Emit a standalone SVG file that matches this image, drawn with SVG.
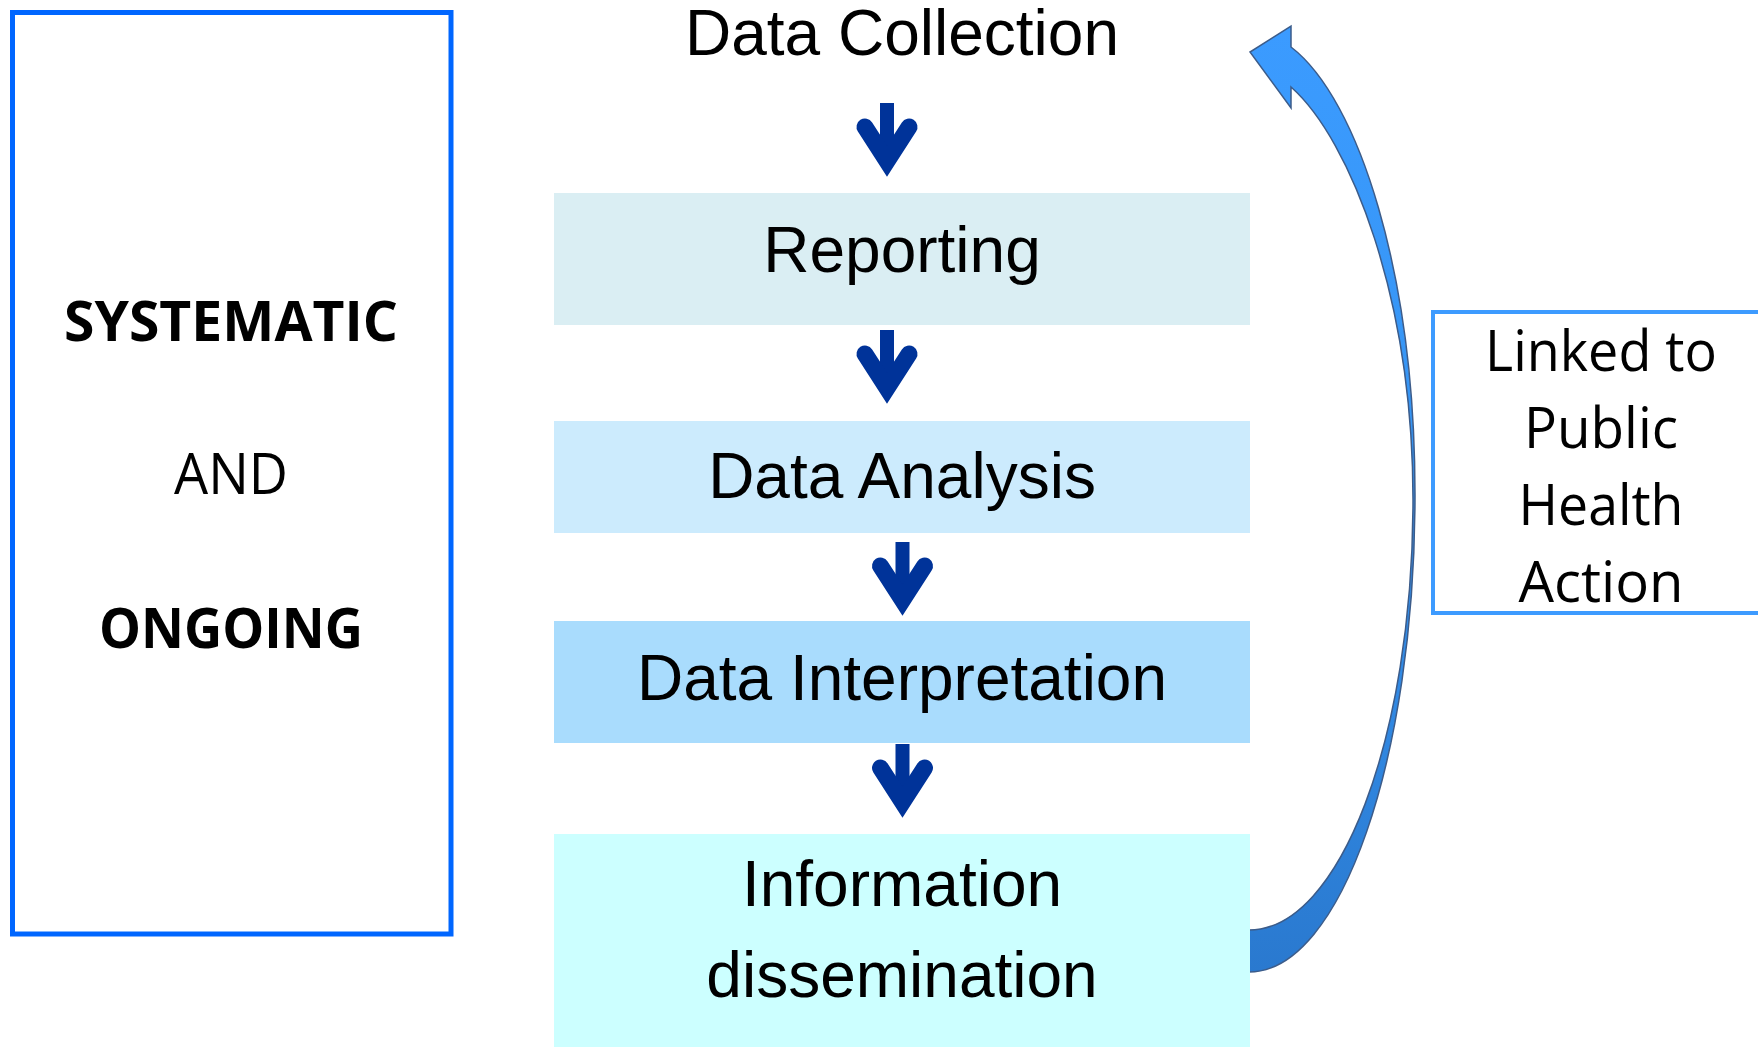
<svg xmlns="http://www.w3.org/2000/svg" xmlns:xlink="http://www.w3.org/1999/xlink" width="1758" height="1047" viewBox="0 0 1758 1047">
  <style>
    .step { font-family: "Liberation Sans", Arial, sans-serif; font-size: 64px; fill: #000; text-anchor: middle; }
    .side { font-family: "Open Sans", "Noto Sans", sans-serif; fill: #000; text-anchor: middle; }
    .bold { font-weight: bold; }
    .frame { fill: none; stroke: #0066FF; stroke-width: 5; }
    .note { fill: none; stroke: #3D9BFF; stroke-width: 4; }
  </style>
  <defs>
    <!-- small downward arrow between steps -->
    <g id="down">
      <rect x="-7" y="0" width="14" height="45" fill="#003399"/>
      <polyline points="-22,24 0,58 22,24" fill="none" stroke="#003399" stroke-width="17" stroke-linecap="round" stroke-linejoin="miter"/>
    </g>
    <linearGradient id="loopFill" gradientUnits="userSpaceOnUse" x1="0" y1="26" x2="0" y2="972">
      <stop offset="0" stop-color="#3B9BFF"/>
      <stop offset="0.5" stop-color="#3594F2"/>
      <stop offset="1" stop-color="#2A79CF"/>
    </linearGradient>
  </defs>

  <rect width="1758" height="1047" fill="#FFFFFF"/>

  <!-- connectors -->
  <g id="connectors">
    <path id="feedback" d="M1249,972 C1341,972 1415,758 1415,495 C1415,275 1359,99 1291,47 L1291,26 L1250,52 L1291,108 L1291,87 C1351,140 1413,300 1413,500 C1413,737 1340,930 1249,930 Z" fill="url(#loopFill)" stroke="#3C5C8A" stroke-width="1.5" stroke-linejoin="miter"/>
    <use xlink:href="#down" x="887" y="103"/>
    <use xlink:href="#down" x="887" y="330"/>
    <use xlink:href="#down" x="902.5" y="542"/>
    <use xlink:href="#down" x="902.5" y="744"/>
  </g>

  <!-- left frame -->
  <g id="systematic-ongoing">
    <rect class="frame" x="12.5" y="12.5" width="438.5" height="921.5"/>
    <text class="side bold" x="231" y="341" font-size="56" textLength="334" lengthAdjust="spacingAndGlyphs">SYSTEMATIC</text>
    <text class="side" x="231" y="494" font-size="56" textLength="114" lengthAdjust="spacingAndGlyphs">AND</text>
    <text class="side bold" x="231" y="648" font-size="56" textLength="264" lengthAdjust="spacingAndGlyphs">ONGOING</text>
  </g>

  <g id="data-collection">
    <text class="step" x="902" y="55">Data Collection</text>
  </g>

  <g id="reporting">
    <rect x="554" y="193" width="696" height="132" fill="#DAEEF3"/>
    <text class="step" x="902" y="272">Reporting</text>
  </g>

  <g id="data-analysis">
    <rect x="554" y="421" width="696" height="112" fill="#CCEBFD"/>
    <text class="step" x="902" y="498">Data Analysis</text>
  </g>

  <g id="data-interpretation">
    <rect x="554" y="621" width="696" height="122" fill="#A9DCFD"/>
    <text class="step" x="902" y="700">Data Interpretation</text>
  </g>

  <g id="information-dissemination">
    <rect x="554" y="834" width="696" height="213" fill="#CCFFFF"/>
    <text class="step" x="902" y="906">Information</text>
    <text class="step" x="902" y="997">dissemination</text>
  </g>

  <!-- right note -->
  <g id="public-health-action">
    <rect class="note" x="1433" y="312" width="340" height="301"/>
    <text class="side" x="1601" y="371" font-size="57" textLength="232" lengthAdjust="spacingAndGlyphs">Linked to</text>
    <text class="side" x="1601" y="448" font-size="57" textLength="154" lengthAdjust="spacingAndGlyphs">Public</text>
    <text class="side" x="1601" y="525" font-size="57" textLength="165" lengthAdjust="spacingAndGlyphs">Health</text>
    <text class="side" x="1601" y="602" font-size="57" textLength="165" lengthAdjust="spacingAndGlyphs">Action</text>
  </g>
</svg>
